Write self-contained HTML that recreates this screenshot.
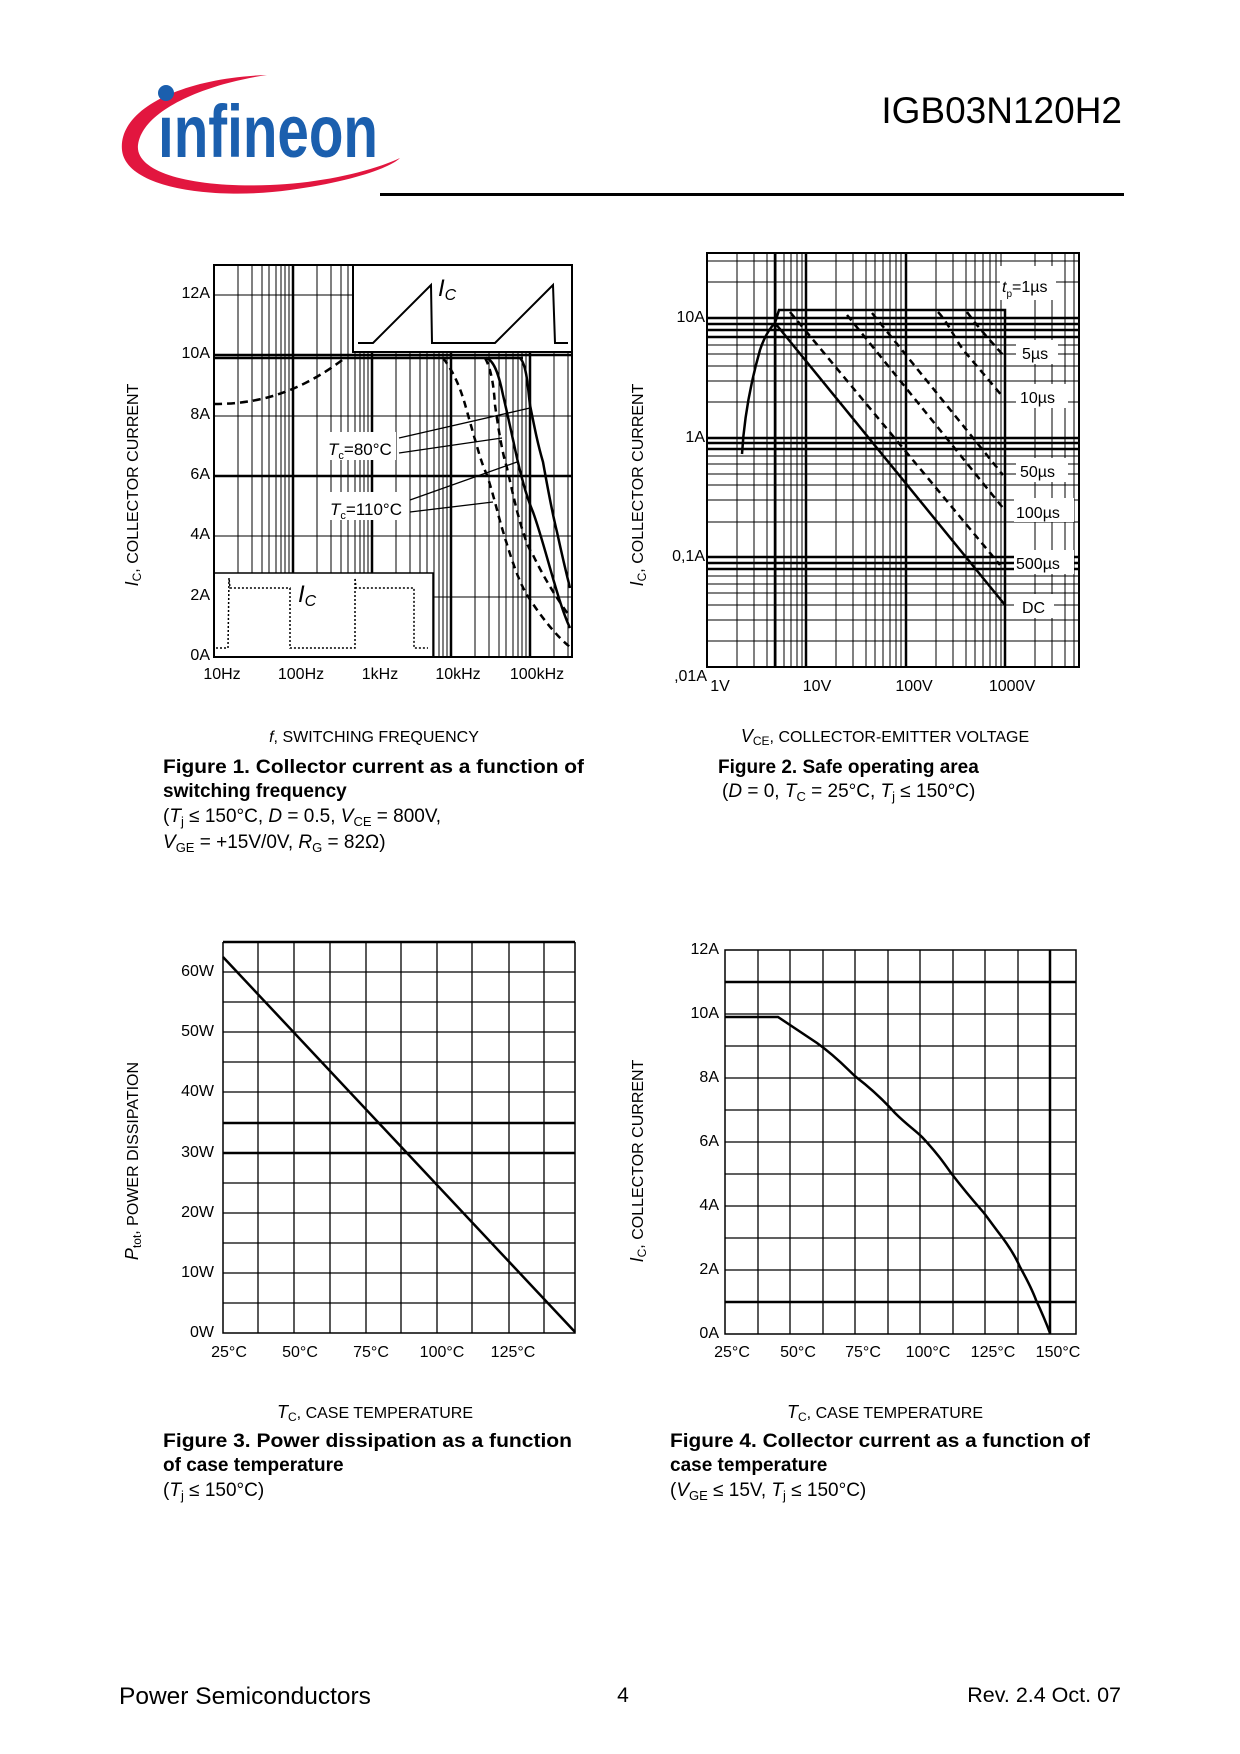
<!DOCTYPE html>
<html><head><meta charset="utf-8">
<style>
html,body{margin:0;padding:0;background:#fff;}
svg{display:block;}
text{font-family:"Liberation Sans",Arial,sans-serif;fill:#000;}
</style></head><body>
<svg width="1240" height="1754" viewBox="0 0 1240 1754" xmlns="http://www.w3.org/2000/svg">
<rect width="1240" height="1754" fill="#fff"/>
<!-- Logo -->
<path d="M267,75 C180,78 118,110 122,150 C126,190 220,200 290,190 C350,182 390,168 400,158 C370,172 320,183 270,185 C190,188 135,172 138,145 C142,112 200,85 267,75 Z" fill="#e2163f"/>
<circle cx="166" cy="93" r="8" fill="#1b5fae"/>
<text x="158" y="157" font-size="74" font-weight="bold" textLength="220" lengthAdjust="spacingAndGlyphs" style="fill:#1b5fae">ınfineon</text>
<text x="1122" y="123" font-size="37" text-anchor="end">IGB03N120H2</text>
<rect x="380" y="193" width="744" height="3" fill="#000"/>

<!-- ========== FIG 1 ========== -->
<g stroke="#000" fill="none">
<path stroke-width="1" d="M238,265V657M252,265V657M262,265V657M269,265V657M276,265V657M281,265V657M285,265V657M289,265V657
M317,265V657M331,265V657M341,265V657M348,265V657M355,265V657M360,265V657M364,265V657M368,265V657
M396,265V657M410,265V657M420,265V657M427,265V657M434,265V657M439,265V657M443,265V657M447,265V657
M475,265V657M489,265V657M499,265V657M506,265V657M513,265V657M518,265V657M522,265V657M526,265V657M554,265V657M568,265V657"/>
<path stroke-width="2.5" d="M293,265V657M372,265V657M451,265V657M530,265V657"/>
<path stroke-width="1" d="M214,295H572M214,416H572M214,536H572M214,597H572"/>
<path stroke-width="2.5" d="M214,355H572M214,476H572"/>
</g>
<rect x="326" y="432" width="70" height="28" fill="#fff"/>
<rect x="326" y="492" width="82" height="28" fill="#fff"/>
<rect x="353" y="265" width="219" height="87" fill="#fff" stroke="#000" stroke-width="2"/>
<polyline points="358,343 373,343 431,285 432,343 495,343 553,285 555,343 568,343" fill="none" stroke="#000" stroke-width="2"/>
<text x="438" y="296" font-size="24" font-style="italic">I<tspan font-size="16" dy="4">C</tspan></text>
<rect x="214" y="573" width="219" height="84" fill="#fff" stroke="#000" stroke-width="1.5"/>
<polyline points="216,648 228,648 229,578 230,588 290,588 290,648 355,648 355,578 356,588 414,588 414,648 428,648" fill="none" stroke="#000" stroke-width="1.5" stroke-dasharray="2,2"/>
<text x="298" y="602" font-size="24" font-style="italic">I<tspan font-size="16" dy="4">C</tspan></text>
<rect x="214" y="265" width="358" height="392" fill="none" stroke="#000" stroke-width="2"/>
<g fill="none" stroke="#000" stroke-width="2.5">
<path d="M214,358H523"/>
<path stroke-dasharray="8,5" d="M214,404 C260,404 300,392 345,358"/>
<path stroke-dasharray="7,5" d="M443,358 C460,380 465,405 470,422 C478,450 482,465 487,475 C495,500 498,515 502,528 C510,555 518,580 527,595 C540,615 555,635 570,647"/>
<path stroke-dasharray="7,5" d="M485,358 C492,370 494,390 495,405 C500,440 503,455 507,468 C512,490 516,508 520,522 C525,538 528,548 533,555 C545,580 558,600 570,617"/>
<path d="M486,358 C495,360 500,380 503,395 C510,425 513,440 517,458 C522,480 527,498 533,512 C545,545 557,600 570,628"/>
<path d="M520,358 C527,365 528,390 530,405 C535,430 538,445 543,462 C548,490 552,512 557,532 C562,555 566,572 570,588"/>
</g>
<g stroke="#000" stroke-width="1.3">
<line x1="399" y1="438" x2="530" y2="408"/><line x1="399" y1="453" x2="502" y2="438"/>
<line x1="410" y1="500" x2="517" y2="462"/><line x1="410" y1="512" x2="493" y2="502"/>
</g>
<text x="328" y="455" font-size="17" font-style="italic">T<tspan font-size="11" dy="4" font-style="normal">c</tspan><tspan dy="-4" font-style="normal">=80°C</tspan></text>
<text x="330" y="515" font-size="17" font-style="italic">T<tspan font-size="11" dy="4" font-style="normal">c</tspan><tspan dy="-4" font-style="normal">=110°C</tspan></text>
<g font-size="16" text-anchor="end">
<text x="210" y="298">12A</text><text x="210" y="358">10A</text><text x="210" y="419">8A</text>
<text x="210" y="479">6A</text><text x="210" y="539">4A</text><text x="210" y="600">2A</text><text x="210" y="660">0A</text>
</g>
<g font-size="16" text-anchor="middle">
<text x="222" y="679">10Hz</text><text x="301" y="679">100Hz</text><text x="380" y="679">1kHz</text>
<text x="458" y="679">10kHz</text><text x="537" y="679">100kHz</text>
</g>
<text transform="translate(138,485) rotate(-90)" font-size="16" text-anchor="middle"><tspan font-style="italic" font-size="18">I</tspan><tspan font-size="12" dy="3">C</tspan><tspan dy="-3">, COLLECTOR CURRENT</tspan></text>
<text x="374" y="742" font-size="16" text-anchor="middle"><tspan font-style="italic">f</tspan>, SWITCHING FREQUENCY</text>
<text x="163" y="773" font-size="19" font-weight="bold" textLength="421" lengthAdjust="spacingAndGlyphs">Figure 1. Collector current as a function of</text>
<text x="163" y="797" font-size="19" font-weight="bold">switching frequency</text>
<text x="163" y="822" font-size="19">(<tspan font-style="italic">T</tspan><tspan font-size="13" dy="4">j</tspan><tspan dy="-4"> ≤ 150°C, </tspan><tspan font-style="italic">D</tspan> = 0.5, <tspan font-style="italic">V</tspan><tspan font-size="13" dy="4">CE</tspan><tspan dy="-4"> = 800V,</tspan></text>
<text x="163" y="848" font-size="19"><tspan font-style="italic">V</tspan><tspan font-size="13" dy="4">GE</tspan><tspan dy="-4"> = +15V/0V, </tspan><tspan font-style="italic">R</tspan><tspan font-size="13" dy="4">G</tspan><tspan dy="-4"> = 82Ω)</tspan></text>

<!-- ========== FIG 2 ========== -->
<g stroke="#000" fill="none">
<path stroke-width="1" d="M737,253V667M754,253V667M767,253V667M776,253V667M784,253V667M791,253V667M797,253V667M802,253V667
M836,253V667M853,253V667M866,253V667M875,253V667M883,253V667M890,253V667M896,253V667M901,253V667
M936,253V667M953,253V667M966,253V667M975,253V667M983,253V667M990,253V667M996,253V667M1001,253V667
M1035,253V667M1052,253V667M1065,253V667M1074,253V667"/>
<path stroke-width="2.5" d="M775,253V667M806,253V667M906,253V667"/>
<path stroke-width="1" d="M707,641H1079M707,620H1079M707,605H1079M707,593H1079M707,584H1079M707,576H1079
M707,522H1079M707,500H1079M707,485H1079M707,474H1079M707,464H1079M707,456H1079
M707,402H1079M707,381H1079M707,366H1079M707,354H1079M707,345H1079M707,282H1079M707,261H1079"/>
<path stroke-width="2.5" d="M707,569H1079M707,563H1079M707,557H1079M707,449H1079M707,443H1079M707,438H1079M707,337H1079M707,330H1079M707,324H1079M707,318H1079"/>
</g>
<g fill="#fff">
<rect x="1000" y="266" width="56" height="34"/>
<rect x="1016" y="340" width="42" height="24"/>
<rect x="1016" y="384" width="52" height="24"/>
<rect x="1016" y="458" width="52" height="24"/>
<rect x="1014" y="498" width="60" height="24"/>
<rect x="1014" y="550" width="60" height="24"/>
<rect x="1014" y="594" width="40" height="24"/>
</g>
<rect x="707" y="253" width="372" height="414" fill="none" stroke="#000" stroke-width="2"/>
<g fill="none" stroke="#000" stroke-width="2.5">
<path d="M742,454 C744,420 750,385 760,350 C765,335 770,328 775,323 L779,310 H1005 V667"/>
<path d="M775,323 L1005,605"/>
</g>
<g fill="none" stroke="#000" stroke-width="2.5" stroke-dasharray="7,5">
<path d="M790,312 L1000,565"/>
<path d="M847,315 L1003,508"/>
<path d="M872,313 L1003,475"/>
<path d="M938,312 C950,325 955,340 965,352 L1003,397"/>
<path d="M967,312 C980,330 990,340 1003,355"/>
</g>
<g font-size="16">
<text x="1002" y="292"><tspan font-style="italic">t</tspan><tspan font-size="10" dy="5">p</tspan><tspan dy="-5">=1µs</tspan></text>
<text x="1022" y="359">5µs</text>
<text x="1020" y="403">10µs</text>
<text x="1020" y="477">50µs</text>
<text x="1016" y="518">100µs</text>
<text x="1016" y="569">500µs</text>
<text x="1022" y="613">DC</text>
</g>
<g font-size="16" text-anchor="end">
<text x="705" y="322">10A</text><text x="705" y="442">1A</text><text x="705" y="561">0,1A</text><text x="707" y="681">,01A</text>
</g>
<g font-size="16" text-anchor="middle">
<text x="720" y="691">1V</text><text x="817" y="691">10V</text><text x="914" y="691">100V</text><text x="1012" y="691">1000V</text>
</g>
<text transform="translate(643,485) rotate(-90)" font-size="16" text-anchor="middle"><tspan font-style="italic" font-size="18">I</tspan><tspan font-size="12" dy="3">C</tspan><tspan dy="-3">, COLLECTOR CURRENT</tspan></text>
<text x="885" y="742" font-size="16" text-anchor="middle"><tspan font-style="italic" font-size="18">V</tspan><tspan font-size="12" dy="3">CE</tspan><tspan dy="-3">, COLLECTOR-EMITTER VOLTAGE</tspan></text>
<text x="718" y="773" font-size="19" font-weight="bold">Figure 2. Safe operating area</text>
<text x="722" y="797" font-size="19">(<tspan font-style="italic">D</tspan> = 0, <tspan font-style="italic">T</tspan><tspan font-size="13" dy="4">C</tspan><tspan dy="-4"> = 25°C, </tspan><tspan font-style="italic">T</tspan><tspan font-size="13" dy="4">j</tspan><tspan dy="-4"> ≤ 150°C)</tspan></text>

<!-- ========== FIG 3 ========== -->
<g stroke="#000" fill="none" stroke-width="1.3">
<path d="M258,942V1333M294,942V1333M330,942V1333M366,942V1333M401,942V1333M437,942V1333M472,942V1333M509,942V1333M544,942V1333"/>
<path d="M223,972H575M223,1002H575M223,1032H575M223,1062H575M223,1092H575M223,1183H575M223,1213H575M223,1243H575M223,1273H575M223,1303H575"/>
<path stroke-width="2.5" d="M223,942H575M223,1123H575M223,1153H575"/>
<path stroke-width="1.5" d="M223,942V1333H575V942"/>
<path stroke-width="2.5" d="M223,957L575,1332"/>
</g>
<g font-size="16" text-anchor="end">
<text x="214" y="976">60W</text><text x="214" y="1036">50W</text><text x="214" y="1096">40W</text><text x="214" y="1157">30W</text>
<text x="214" y="1217">20W</text><text x="214" y="1277">10W</text><text x="214" y="1337">0W</text>
</g>
<g font-size="16" text-anchor="middle">
<text x="229" y="1357">25°C</text><text x="300" y="1357">50°C</text><text x="371" y="1357">75°C</text><text x="442" y="1357">100°C</text><text x="513" y="1357">125°C</text>
</g>
<text transform="translate(138,1161) rotate(-90)" font-size="16" text-anchor="middle"><tspan font-style="italic" font-size="18">P</tspan><tspan font-size="12" dy="3">tot</tspan><tspan dy="-3">, POWER DISSIPATION</tspan></text>
<text x="375" y="1418" font-size="16" text-anchor="middle"><tspan font-style="italic" font-size="18">T</tspan><tspan font-size="12" dy="3">C</tspan><tspan dy="-3">, CASE TEMPERATURE</tspan></text>
<text x="163" y="1447" font-size="19" font-weight="bold" textLength="409" lengthAdjust="spacingAndGlyphs">Figure 3. Power dissipation as a function</text>
<text x="163" y="1471" font-size="19" font-weight="bold">of case temperature</text>
<text x="163" y="1496" font-size="19">(<tspan font-style="italic">T</tspan><tspan font-size="13" dy="4">j</tspan><tspan dy="-4"> ≤ 150°C)</tspan></text>

<!-- ========== FIG 4 ========== -->
<g stroke="#000" fill="none" stroke-width="1.3">
<path d="M758,950V1334M790,950V1334M823,950V1334M855,950V1334M888,950V1334M920,950V1334M953,950V1334M985,950V1334M1018,950V1334"/>
<path d="M725,1014H1076M725,1046H1076M725,1078H1076M725,1110H1076M725,1142H1076M725,1174H1076M725,1206H1076M725,1238H1076M725,1270H1076"/>
<path stroke-width="2.5" d="M725,982H1076M725,1302H1076M1050,950V1334"/>
<path stroke-width="1.5" d="M725,950H1076V1334H725Z"/>
<path stroke-width="2.5" d="M725,1017H778 L817,1043 C838,1058 848,1070 856,1077 C873,1090 886,1103 895,1113 C907,1125 915,1130 922,1137 C937,1153 944,1163 951,1173 C968,1195 977,1205 984,1213 C993,1225 998,1232 1002,1237 C1013,1252 1017,1260 1020,1267 C1030,1285 1033,1292 1036,1300 C1043,1315 1047,1325 1050,1333"/>
</g>
<g font-size="16" text-anchor="end">
<text x="719" y="954">12A</text><text x="719" y="1018">10A</text><text x="719" y="1082">8A</text><text x="719" y="1146">6A</text>
<text x="719" y="1210">4A</text><text x="719" y="1274">2A</text><text x="719" y="1338">0A</text>
</g>
<g font-size="16" text-anchor="middle">
<text x="732" y="1357">25°C</text><text x="798" y="1357">50°C</text><text x="863" y="1357">75°C</text><text x="928" y="1357">100°C</text><text x="993" y="1357">125°C</text><text x="1058" y="1357">150°C</text>
</g>
<text transform="translate(643,1161) rotate(-90)" font-size="16" text-anchor="middle"><tspan font-style="italic" font-size="18">I</tspan><tspan font-size="12" dy="3">C</tspan><tspan dy="-3">, COLLECTOR CURRENT</tspan></text>
<text x="885" y="1418" font-size="16" text-anchor="middle"><tspan font-style="italic" font-size="18">T</tspan><tspan font-size="12" dy="3">C</tspan><tspan dy="-3">, CASE TEMPERATURE</tspan></text>
<text x="670" y="1447" font-size="19" font-weight="bold" textLength="420" lengthAdjust="spacingAndGlyphs">Figure 4. Collector current as a function of</text>
<text x="670" y="1471" font-size="19" font-weight="bold">case temperature</text>
<text x="670" y="1496" font-size="19">(<tspan font-style="italic">V</tspan><tspan font-size="13" dy="4">GE</tspan><tspan dy="-4"> ≤ 15V, </tspan><tspan font-style="italic">T</tspan><tspan font-size="13" dy="4">j</tspan><tspan dy="-4"> ≤ 150°C)</tspan></text>

<!-- footer -->
<text x="119" y="1704" font-size="24.5">Power Semiconductors</text>
<text x="623" y="1702" font-size="21" text-anchor="middle">4</text>
<text x="1121" y="1702" font-size="21.5" text-anchor="end">Rev. 2.4  Oct. 07</text>
</svg>
</body></html>
